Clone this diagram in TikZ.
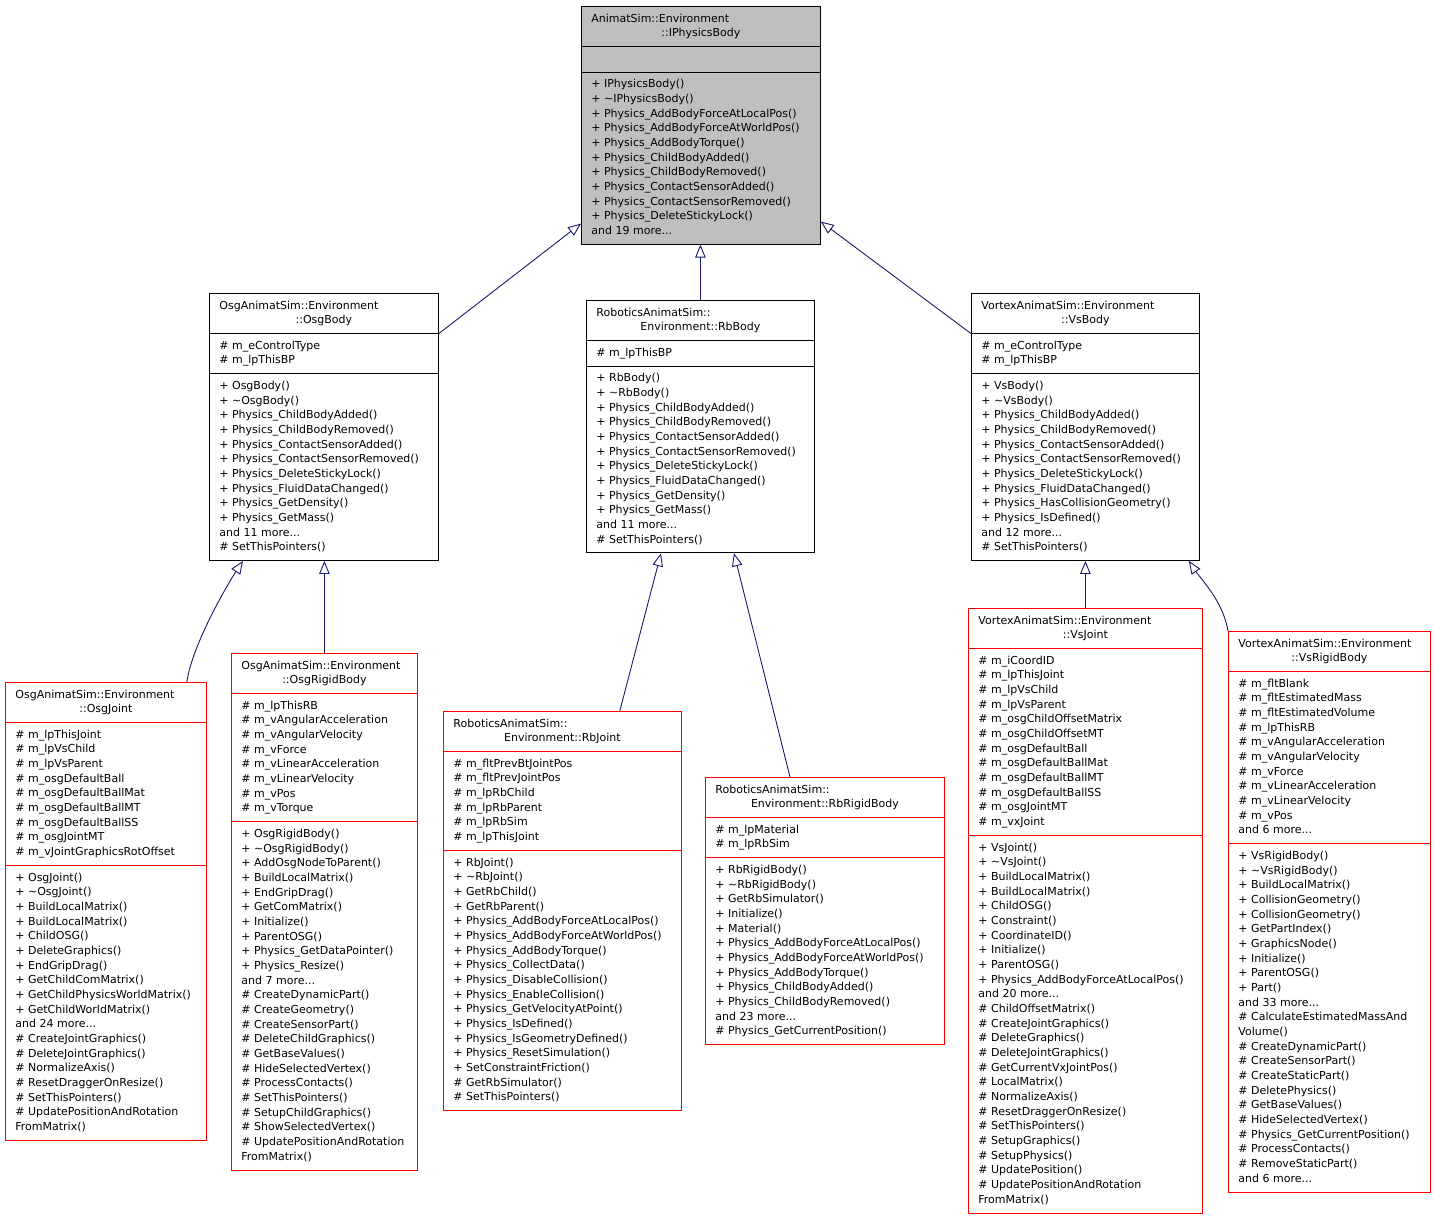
\documentclass[tikz,border=0pt]{standalone}
\usepackage{fontspec}
\setmainfont{DejaVu Sans}
\usetikzlibrary{shapes.multipart,arrows.meta}
\definecolor{basegray}{HTML}{BFBFBF}
\definecolor{leafred}{HTML}{FF0000}
\definecolor{edgeblue}{HTML}{191970}
\tikzset{
  cls/.style={rectangle split,rectangle split parts=3,draw,line width=0.8pt,fill=white,inner xsep=10pt,inner ysep=5pt,align=flush left,anchor=north west,font=\fontsize{11}{14.67}\selectfont},
  basecls/.style={cls,fill=basegray},
  leafcls/.style={cls,draw=leafred},
  inherit/.style={draw=edgeblue,line width=0.9pt,-{Triangle[length=13pt,width=10.5pt,fill=white]}}
}
\begin{document}
\begin{tikzpicture}[x=1pt,y=-1pt]
\useasboundingbox (0,0) rectangle (1435,1219);
% base class
\node[basecls,text width=219pt] (ipb) at (581,6) {\strut AnimatSim::Environment\\\hspace*{\fill}::IPhysicsBody\hspace*{\fill}\strut
 \nodepart{two}\strut
 \nodepart{three}\strut+ IPhysicsBody()\\+ \textasciitilde IPhysicsBody()\\+ Physics\_AddBodyForceAtLocalPos()\\+ Physics\_AddBodyForceAtWorldPos()\\+ Physics\_AddBodyTorque()\\+ Physics\_ChildBodyAdded()\\+ Physics\_ChildBodyRemoved()\\+ Physics\_ContactSensorAdded()\\+ Physics\_ContactSensorRemoved()\\+ Physics\_DeleteStickyLock()\\and 19 more...\strut};
% engine bodies
\node[cls,text width=209pt] (osgbody) at (209,293) {\strut OsgAnimatSim::Environment\\\hspace*{\fill}::OsgBody\hspace*{\fill}\strut
 \nodepart{two}\strut\# m\_eControlType\\\# m\_lpThisBP\strut
 \nodepart{three}\strut+ OsgBody()\\+ \textasciitilde OsgBody()\\+ Physics\_ChildBodyAdded()\\+ Physics\_ChildBodyRemoved()\\+ Physics\_ContactSensorAdded()\\+ Physics\_ContactSensorRemoved()\\+ Physics\_DeleteStickyLock()\\+ Physics\_FluidDataChanged()\\+ Physics\_GetDensity()\\+ Physics\_GetMass()\\and 11 more...\\\# SetThisPointers()\strut};
\node[cls,text width=208pt] (rbbody) at (586,300) {\strut RoboticsAnimatSim::\\\hspace*{\fill}Environment::RbBody\hspace*{\fill}\strut
 \nodepart{two}\strut\# m\_lpThisBP\strut
 \nodepart{three}\strut+ RbBody()\\+ \textasciitilde RbBody()\\+ Physics\_ChildBodyAdded()\\+ Physics\_ChildBodyRemoved()\\+ Physics\_ContactSensorAdded()\\+ Physics\_ContactSensorRemoved()\\+ Physics\_DeleteStickyLock()\\+ Physics\_FluidDataChanged()\\+ Physics\_GetDensity()\\+ Physics\_GetMass()\\and 11 more...\\\# SetThisPointers()\strut};
\node[cls,text width=208pt] (vsbody) at (971,293) {\strut VortexAnimatSim::Environment\\\hspace*{\fill}::VsBody\hspace*{\fill}\strut
 \nodepart{two}\strut\# m\_eControlType\\\# m\_lpThisBP\strut
 \nodepart{three}\strut+ VsBody()\\+ \textasciitilde VsBody()\\+ Physics\_ChildBodyAdded()\\+ Physics\_ChildBodyRemoved()\\+ Physics\_ContactSensorAdded()\\+ Physics\_ContactSensorRemoved()\\+ Physics\_DeleteStickyLock()\\+ Physics\_FluidDataChanged()\\+ Physics\_HasCollisionGeometry()\\+ Physics\_IsDefined()\\and 12 more...\\\# SetThisPointers()\strut};
% joints and rigid bodies
\node[leafcls,text width=181pt] (osgjoint) at (5,682) {\strut OsgAnimatSim::Environment\\\hspace*{\fill}::OsgJoint\hspace*{\fill}\strut
 \nodepart{two}\strut\# m\_lpThisJoint\\\# m\_lpVsChild\\\# m\_lpVsParent\\\# m\_osgDefaultBall\\\# m\_osgDefaultBallMat\\\# m\_osgDefaultBallMT\\\# m\_osgDefaultBallSS\\\# m\_osgJointMT\\\# m\_vJointGraphicsRotOffset\strut
 \nodepart{three}\strut+ OsgJoint()\\+ \textasciitilde OsgJoint()\\+ BuildLocalMatrix()\\+ BuildLocalMatrix()\\+ ChildOSG()\\+ DeleteGraphics()\\+ EndGripDrag()\\+ GetChildComMatrix()\\+ GetChildPhysicsWorldMatrix()\\+ GetChildWorldMatrix()\\and 24 more...\\\# CreateJointGraphics()\\\# DeleteJointGraphics()\\\# NormalizeAxis()\\\# ResetDraggerOnResize()\\\# SetThisPointers()\\\# UpdatePositionAndRotation\\FromMatrix()\strut};
\node[leafcls,text width=166pt] (osgrigid) at (231,653) {\strut OsgAnimatSim::Environment\\\hspace*{\fill}::OsgRigidBody\hspace*{\fill}\strut
 \nodepart{two}\strut\# m\_lpThisRB\\\# m\_vAngularAcceleration\\\# m\_vAngularVelocity\\\# m\_vForce\\\# m\_vLinearAcceleration\\\# m\_vLinearVelocity\\\# m\_vPos\\\# m\_vTorque\strut
 \nodepart{three}\strut+ OsgRigidBody()\\+ \textasciitilde OsgRigidBody()\\+ AddOsgNodeToParent()\\+ BuildLocalMatrix()\\+ EndGripDrag()\\+ GetComMatrix()\\+ Initialize()\\+ ParentOSG()\\+ Physics\_GetDataPointer()\\+ Physics\_Resize()\\and 7 more...\\\# CreateDynamicPart()\\\# CreateGeometry()\\\# CreateSensorPart()\\\# DeleteChildGraphics()\\\# GetBaseValues()\\\# HideSelectedVertex()\\\# ProcessContacts()\\\# SetThisPointers()\\\# SetupChildGraphics()\\\# ShowSelectedVertex()\\\# UpdatePositionAndRotation\\FromMatrix()\strut};
\node[leafcls,text width=218pt] (rbjoint) at (443,711) {\strut RoboticsAnimatSim::\\\hspace*{\fill}Environment::RbJoint\hspace*{\fill}\strut
 \nodepart{two}\strut\# m\_fltPrevBtJointPos\\\# m\_fltPrevJointPos\\\# m\_lpRbChild\\\# m\_lpRbParent\\\# m\_lpRbSim\\\# m\_lpThisJoint\strut
 \nodepart{three}\strut+ RbJoint()\\+ \textasciitilde RbJoint()\\+ GetRbChild()\\+ GetRbParent()\\+ Physics\_AddBodyForceAtLocalPos()\\+ Physics\_AddBodyForceAtWorldPos()\\+ Physics\_AddBodyTorque()\\+ Physics\_CollectData()\\+ Physics\_DisableCollision()\\+ Physics\_EnableCollision()\\+ Physics\_GetVelocityAtPoint()\\+ Physics\_IsDefined()\\+ Physics\_IsGeometryDefined()\\+ Physics\_ResetSimulation()\\+ SetConstraintFriction()\\\# GetRbSimulator()\\\# SetThisPointers()\strut};
\node[leafcls,text width=219pt] (rbrigid) at (705,777) {\strut RoboticsAnimatSim::\\\hspace*{\fill}Environment::RbRigidBody\hspace*{\fill}\strut
 \nodepart{two}\strut\# m\_lpMaterial\\\# m\_lpRbSim\strut
 \nodepart{three}\strut+ RbRigidBody()\\+ \textasciitilde RbRigidBody()\\+ GetRbSimulator()\\+ Initialize()\\+ Material()\\+ Physics\_AddBodyForceAtLocalPos()\\+ Physics\_AddBodyForceAtWorldPos()\\+ Physics\_AddBodyTorque()\\+ Physics\_ChildBodyAdded()\\+ Physics\_ChildBodyRemoved()\\and 23 more...\\\# Physics\_GetCurrentPosition()\strut};
\node[leafcls,text width=214pt] (vsjoint) at (968,608) {\strut VortexAnimatSim::Environment\\\hspace*{\fill}::VsJoint\hspace*{\fill}\strut
 \nodepart{two}\strut\# m\_iCoordID\\\# m\_lpThisJoint\\\# m\_lpVsChild\\\# m\_lpVsParent\\\# m\_osgChildOffsetMatrix\\\# m\_osgChildOffsetMT\\\# m\_osgDefaultBall\\\# m\_osgDefaultBallMat\\\# m\_osgDefaultBallMT\\\# m\_osgDefaultBallSS\\\# m\_osgJointMT\\\# m\_vxJoint\strut
 \nodepart{three}\strut+ VsJoint()\\+ \textasciitilde VsJoint()\\+ BuildLocalMatrix()\\+ BuildLocalMatrix()\\+ ChildOSG()\\+ Constraint()\\+ CoordinateID()\\+ Initialize()\\+ ParentOSG()\\+ Physics\_AddBodyForceAtLocalPos()\\and 20 more...\\\# ChildOffsetMatrix()\\\# CreateJointGraphics()\\\# DeleteGraphics()\\\# DeleteJointGraphics()\\\# GetCurrentVxJointPos()\\\# LocalMatrix()\\\# NormalizeAxis()\\\# ResetDraggerOnResize()\\\# SetThisPointers()\\\# SetupGraphics()\\\# SetupPhysics()\\\# UpdatePosition()\\\# UpdatePositionAndRotation\\FromMatrix()\strut};
\node[leafcls,text width=182pt] (vsrigid) at (1228,631) {\strut VortexAnimatSim::Environment\\\hspace*{\fill}::VsRigidBody\hspace*{\fill}\strut
 \nodepart{two}\strut\# m\_fltBlank\\\# m\_fltEstimatedMass\\\# m\_fltEstimatedVolume\\\# m\_lpThisRB\\\# m\_vAngularAcceleration\\\# m\_vAngularVelocity\\\# m\_vForce\\\# m\_vLinearAcceleration\\\# m\_vLinearVelocity\\\# m\_vPos\\and 6 more...\strut
 \nodepart{three}\strut+ VsRigidBody()\\+ \textasciitilde VsRigidBody()\\+ BuildLocalMatrix()\\+ CollisionGeometry()\\+ CollisionGeometry()\\+ GetPartIndex()\\+ GraphicsNode()\\+ Initialize()\\+ ParentOSG()\\+ Part()\\and 33 more...\\\# CalculateEstimatedMassAnd\\Volume()\\\# CreateDynamicPart()\\\# CreateSensorPart()\\\# CreateStaticPart()\\\# DeletePhysics()\\\# GetBaseValues()\\\# HideSelectedVertex()\\\# Physics\_GetCurrentPosition()\\\# ProcessContacts()\\\# RemoveStaticPart()\\and 6 more...\strut};
% inheritance
\draw[inherit] (osgbody.one split east) -- ([yshift=21pt]ipb.south west);
\draw[inherit] (rbbody.north) -- (rbbody.north |- ipb.south);
\draw[inherit] (vsbody.one split west) -- ([yshift=23pt]ipb.south east);
\draw[inherit] ([xshift=-20pt]osgjoint.north east) .. controls +(6,-40) and +(-12,18) .. ([xshift=34pt]osgbody.south west);
\draw[inherit] (osgrigid.north) -- (osgrigid.north |- osgbody.south);
\draw[inherit] ([xshift=-62pt]rbjoint.north east) -- ([xshift=75pt]rbbody.south west);
\draw[inherit] ([xshift=85pt]rbrigid.north west) -- ([xshift=148pt]rbbody.south west);
\draw[inherit] (vsjoint.north) -- (vsjoint.north |- vsbody.south);
\draw[inherit] (vsrigid.north west) .. controls +(-5,-30) and +(12,18) .. ([xshift=-11pt]vsbody.south east);
\end{tikzpicture}
\end{document}
